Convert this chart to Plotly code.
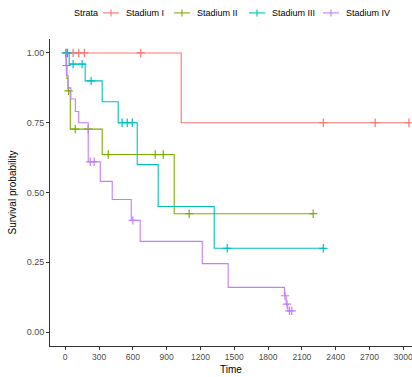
import plotly.graph_objects as go
import numpy as np

strata = ["Stadium I", "Stadium II", "Stadium III", "Stadium IV"]
colors = ["#F8766D", "#7CAE00", "#00BFC4", "#C77CFF"]

# step curves: event times and survival after each step (first point is t=0)
time_I = [0, 1029, 3050]
surv_I = [1.0, 0.75, 0.75]
cens_I = [15, 70, 120, 170, 670, 2290, 2750, 3050]

time_II = [0, 8, 15, 25, 45, 328, 967, 2200]
surv_II = [1.0, 0.955, 0.909, 0.864, 0.727, 0.636, 0.424, 0.424]
cens_II = [12, 30, 89, 204, 382, 799, 870, 1100, 2200]

time_III = [0, 35, 177, 328, 470, 639, 825, 1322, 2290]
surv_III = [1.0, 0.96, 0.90, 0.825, 0.75, 0.60, 0.45, 0.30, 0.30]
cens_III = [5, 20, 70, 150, 230, 505, 550, 595, 1437, 2290]

time_IV = [0, 10, 25, 50, 90, 120, 204, 311, 417, 586, 665, 1216, 1446, 1945, 1960, 1975, 2010]
surv_IV = [1.0, 0.92, 0.875, 0.835, 0.79, 0.75, 0.61, 0.54, 0.475, 0.40, 0.325, 0.245, 0.16, 0.13, 0.10, 0.076, 0.076]
cens_IV = [222, 257, 600, 1950, 1968, 1990, 2010]

x_ticks = [0, 300, 600, 900, 1200, 1500, 1800, 2100, 2400, 2700, 3000]
y_ticks = [0.0, 0.25, 0.5, 0.75, 1.0]
y_tick_labels = ["0.00", "0.25", "0.50", "0.75", "1.00"]

series = [
    (time_I, surv_I, cens_I),
    (time_II, surv_II, cens_II),
    (time_III, surv_III, cens_III),
    (time_IV, surv_IV, cens_IV),
]

def step_value(times, survs, t):
    idx = np.searchsorted(np.array(times), t, side="right") - 1
    return survs[max(idx, 0)]

fig = go.Figure()
for name, col, (tt, ss, cc) in zip(strata, colors, series):
    fig.add_trace(go.Scatter(x=tt, y=ss, mode="lines", line=dict(color=col, width=1.1, shape="hv"),
                             showlegend=False, hoverinfo="skip"))
    cy = [step_value(tt, ss, c) for c in cc]
    fig.add_trace(go.Scatter(x=cc, y=cy, mode="markers",
                             marker=dict(symbol="cross-thin", size=6, line=dict(color=col, width=1.2)),
                             showlegend=False, hoverinfo="skip"))

# manual legend (ggplot style) in paper coordinates
L, W, T, H = 50, 362, 39, 306
def px_x(p):
    return (p - L) / W
def px_y(p):
    return 1 + (T - p) / H

leg_y = 13
annotations = [dict(text="Strata", x=px_x(72), y=px_y(leg_y), xref="paper", yref="paper",
                    xanchor="left", yanchor="middle", showarrow=False,
                    font=dict(size=9, color="black"))]
shapes = []
key_centers = [111, 182, 257, 331]
for name, col, kc in zip(strata, colors, key_centers):
    shapes.append(dict(type="line", xref="paper", yref="paper", x0=px_x(kc - 8), x1=px_x(kc + 8),
                       y0=px_y(leg_y), y1=px_y(leg_y), line=dict(color=col, width=1.1)))
    shapes.append(dict(type="line", xref="paper", yref="paper", x0=px_x(kc), x1=px_x(kc),
                       y0=px_y(leg_y - 3.5), y1=px_y(leg_y + 3.5), line=dict(color=col, width=1.1)))
    annotations.append(dict(text=name, x=px_x(kc + 13), y=px_y(leg_y), xref="paper", yref="paper",
                            xanchor="left", yanchor="middle", showarrow=False,
                            font=dict(size=9, color="black")))

fig.update_layout(
    width=412, height=377,
    margin=dict(l=50, r=0, t=39, b=31),
    paper_bgcolor="white", plot_bgcolor="white",
    font=dict(family="Liberation Sans, Arial, sans-serif", size=9, color="#4D4D4D"),
    showlegend=False,
    annotations=annotations,
    shapes=shapes,
    xaxis=dict(range=[-135, 3077], tickvals=x_ticks, ticktext=[str(v) for v in x_ticks],
               showgrid=False, zeroline=False, showline=True, linecolor="#333333", linewidth=1,
               ticks="outside", ticklen=3, tickcolor="#333333", ticklabeloverflow="allow",
               tickfont=dict(size=8.5),
               title=dict(text="Time", font=dict(size=10, color="black"), standoff=4)),
    yaxis=dict(range=[-0.05, 1.05], tickvals=y_ticks, ticktext=y_tick_labels,
               showgrid=False, zeroline=False, showline=True, linecolor="#333333", linewidth=1,
               ticks="outside", ticklen=3, tickcolor="#333333",
               title=dict(text="Survival probability", font=dict(size=10, color="black"), standoff=8)),
)

fig.write_html("out.html")
